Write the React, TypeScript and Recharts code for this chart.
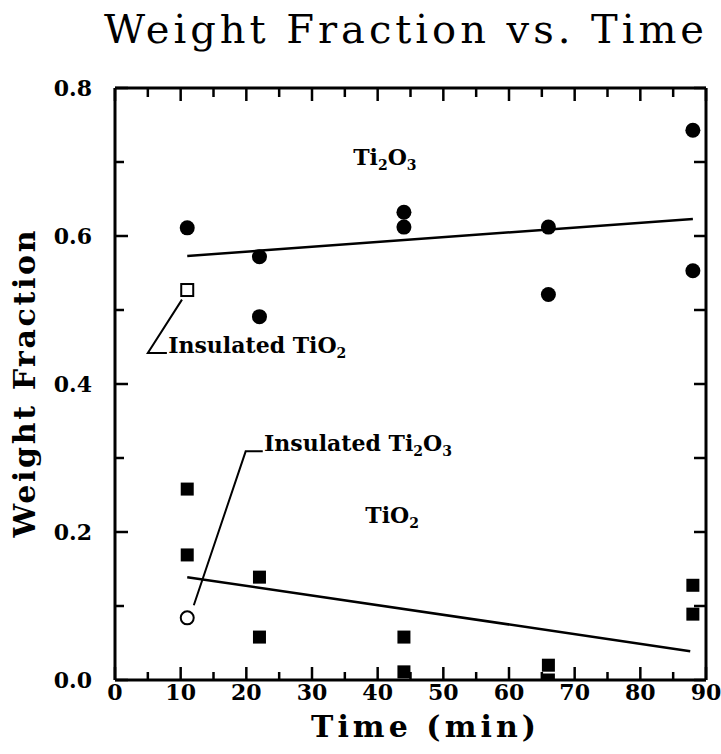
import React from "react";
import { ScatterChart, Scatter, XAxis, YAxis, ReferenceDot, Label } from "recharts";

// Ti2O3 (filled circles)
const ti2o3Time = [11, 22, 22, 44, 44, 66, 66, 88, 88];
const ti2o3Frac = [0.611, 0.572, 0.491, 0.632, 0.612, 0.612, 0.521, 0.743, 0.553];

// TiO2 (filled squares)
const tio2Time = [11, 11, 22, 22, 44, 44, 66, 66, 88, 88];
const tio2Frac = [0.258, 0.169, 0.139, 0.058, 0.058, 0.011, 0.02, 0.0, 0.128, 0.089];

// insulated samples
const insTio2Time = [11];
const insTio2Frac = [0.527];
const insTi2o3Time = [11];
const insTi2o3Frac = [0.084];

// fitted lines
const ti2o3FitTime = [11, 88];
const ti2o3FitFrac = [0.573, 0.623];
const tio2FitTime = [11, 87.6];
const tio2FitFrac = [0.139, 0.039];

// leader lines of the "Insulated" callouts
const insTio2LeaderTime = [10.2, 5.0, 7.9];
const insTio2LeaderFrac = [0.514, 0.442, 0.442];
const insTi2o3LeaderTime = [12.0, 19.9, 22.5];
const insTi2o3LeaderFrac = [0.101, 0.309, 0.309];

const xTicks = [0, 5, 10, 15, 20, 25, 30, 35, 40, 45, 50, 55, 60, 65, 70, 75, 80, 85, 90];
const yTicks = [0, 0.1, 0.2, 0.3, 0.4, 0.5, 0.6, 0.7, 0.8];

const pts = (t: number[], f: number[]) => t.map((time, i) => ({ time, frac: f[i] }));

const SERIF = "DejaVu Serif";
const W = 721;
const H = 754;
const M = { top: 88, right: 15, left: 0, bottom: 0 };
const PLOT_TOP = M.top;
const PLOT_RIGHT = W - M.right;

const filledCircle = (p: any) => <circle cx={p.cx} cy={p.cy} r={7.5} fill="#000" />;
const filledSquare = (p: any) => (
  <rect x={p.cx - 6.5} y={p.cy - 6.5} width={13} height={13} fill="#000" />
);
const openSquare = (p: any) => (
  <rect x={p.cx - 6} y={p.cy - 6} width={12} height={12} fill="#fff" stroke="#000" strokeWidth={2} />
);
const openCircle = (p: any) => (
  <circle cx={p.cx} cy={p.cy} r={6.5} fill="#fff" stroke="#000" strokeWidth={2} />
);
const noShape = () => <g />;

const tickStroke = { stroke: "#000", strokeWidth: 2.5 };
const axisStroke = { stroke: "#000", strokeWidth: 3 };

// bottom ticks (inward), matching top ticks, labels on the tens
const xTick = (p: any) => {
  const v = p.payload.value;
  const major = v % 10 === 0;
  return (
    <g>
      <line x1={p.x} x2={p.x} y1={p.y} y2={p.y - (major ? 13 : 8)} {...tickStroke} />
      <line x1={p.x} x2={p.x} y1={PLOT_TOP} y2={PLOT_TOP + (major ? 13 : 9)} {...tickStroke} />
      {major && (
        <text x={p.x} y={p.y + 20} textAnchor="middle" fontFamily={SERIF} fontWeight="bold" fontSize={22} fill="#000">
          {v}
        </text>
      )}
    </g>
  );
};

// left ticks (inward) with labels every 0.2, right ticks every 0.1
const yTick = (p: any) => {
  const v = p.payload.value;
  const major = Math.round(v * 10) % 2 === 0;
  return (
    <g>
      <line x1={p.x} x2={p.x + (major ? 13 : 9)} y1={p.y} y2={p.y} {...tickStroke} />
      <line x1={PLOT_RIGHT} x2={PLOT_RIGHT - 12} y1={p.y} y2={p.y} {...tickStroke} />
      {major && (
        <text x={p.x - 23} y={p.y + 8} textAnchor="end" fontFamily={SERIF} fontWeight="bold" fontSize={22} fill="#000">
          {v.toFixed(1)}
        </text>
      )}
    </g>
  );
};

// text pieces: [string, isSubscript]
const annot = (parts: [string, boolean][], anchor: "start" | "middle") => (props: any) => {
  const { x, y } = props.viewBox;
  let prevSub = false;
  return (
    <text x={x} y={y} dy={8} textAnchor={anchor} fontFamily={SERIF} fontWeight="bold" fontSize={22} fill="#000">
      {parts.map(([s, sub], i) => {
        const dy = (sub ? 5 : 0) - (prevSub ? 5 : 0);
        prevSub = sub;
        return (
          <tspan key={i} fontSize={sub ? 14 : 22} dy={dy}>
            {s}
          </tspan>
        );
      })}
    </text>
  );
};

const xLabel = (props: any) => {
  const { x, y, width } = props.viewBox;
  return (
    <text x={x + width / 2 + 13} y={y + 57} textAnchor="middle" fontFamily={SERIF} fontWeight="bold"
      fontSize={30} textLength={225} lengthAdjust="spacing" fill="#000">
      Time (min)
    </text>
  );
};

const yLabel = (props: any) => {
  const { y, height } = props.viewBox;
  const cy = y + height / 2;
  return (
    <text x={35} y={cy} transform={`rotate(-90, 35, ${cy})`} textAnchor="middle" fontFamily={SERIF}
      fontWeight="bold" fontSize={30} textLength={307} lengthAdjust="spacing" fill="#000">
      Weight Fraction
    </text>
  );
};

export default function App() {
  return (
    <div style={{ position: "absolute", left: 0, top: 0, width: W, height: H, background: "#fff" }}>
      <svg width={W} height={60} style={{ position: "absolute", left: 0, top: 0 }}>
        <text x={404} y={43} textAnchor="middle" fontFamily={SERIF} fontSize={40} textLength={600}
          lengthAdjust="spacing" fill="#000">
          Weight Fraction vs. Time
        </text>
      </svg>
      <ScatterChart width={W} height={H} margin={M}>
        <XAxis xAxisId="b" dataKey="time" type="number" domain={[0, 90]} allowDataOverflow
          ticks={xTicks} interval={0} tickLine={false} tickSize={0} tickMargin={0}
          axisLine={axisStroke} tick={xTick} height={74}>
          <Label content={xLabel} />
        </XAxis>
        <XAxis xAxisId="t" orientation="top" type="number" domain={[0, 90]} allowDataOverflow mirror
          ticks={[0, 90]} tickLine={false} axisLine={axisStroke} tick={false} />

        <YAxis yAxisId="l" dataKey="frac" type="number" domain={[0, 0.8]} allowDataOverflow
          ticks={yTicks} interval={0} tickLine={false} tickSize={0} tickMargin={0}
          axisLine={axisStroke} tick={yTick} width={115}>
          <Label content={yLabel} />
        </YAxis>
        <YAxis yAxisId="r" orientation="right" type="number" domain={[0, 0.8]} allowDataOverflow mirror
          ticks={[0, 0.8]} tickLine={false} axisLine={axisStroke} tick={false} />

        <Scatter xAxisId="b" yAxisId="l" data={pts(ti2o3FitTime, ti2o3FitFrac)} line={{ stroke: "#000", strokeWidth: 2.5 }}
          shape={noShape} isAnimationActive={false} />
        <Scatter xAxisId="b" yAxisId="l" data={pts(tio2FitTime, tio2FitFrac)} line={{ stroke: "#000", strokeWidth: 2.5 }}
          shape={noShape} isAnimationActive={false} />
        <Scatter xAxisId="b" yAxisId="l" data={pts(insTio2LeaderTime, insTio2LeaderFrac)}
          line={{ stroke: "#000", strokeWidth: 2 }} shape={noShape} isAnimationActive={false} />
        <Scatter xAxisId="b" yAxisId="l" data={pts(insTi2o3LeaderTime, insTi2o3LeaderFrac)}
          line={{ stroke: "#000", strokeWidth: 2 }} shape={noShape} isAnimationActive={false} />

        <Scatter xAxisId="b" yAxisId="l" data={pts(ti2o3Time, ti2o3Frac)} shape={filledCircle} isAnimationActive={false} />
        <Scatter xAxisId="b" yAxisId="l" data={pts(tio2Time, tio2Frac)} shape={filledSquare} isAnimationActive={false} />
        <Scatter xAxisId="b" yAxisId="l" data={pts(insTio2Time, insTio2Frac)} shape={openSquare} isAnimationActive={false} />
        <Scatter xAxisId="b" yAxisId="l" data={pts(insTi2o3Time, insTi2o3Frac)} shape={openCircle} isAnimationActive={false} />

        <ReferenceDot xAxisId="b" yAxisId="l" x={41.1} y={0.696} r={0} fill="none" stroke="none">
          <Label content={annot([["Ti", false], ["2", true], ["O", false], ["3", true]], "middle")} />
        </ReferenceDot>
        <ReferenceDot xAxisId="b" yAxisId="l" x={42.2} y={0.212} r={0} fill="none" stroke="none">
          <Label content={annot([["TiO", false], ["2", true]], "middle")} />
        </ReferenceDot>
        <ReferenceDot xAxisId="b" yAxisId="l" x={8.1} y={0.442} r={0} fill="none" stroke="none">
          <Label content={annot([["Insulated TiO", false], ["2", true]], "start")} />
        </ReferenceDot>
        <ReferenceDot xAxisId="b" yAxisId="l" x={22.7} y={0.309} r={0} fill="none" stroke="none">
          <Label content={annot([["Insulated Ti", false], ["2", true], ["O", false], ["3", true]], "start")} />
        </ReferenceDot>
      </ScatterChart>
    </div>
  );
}
